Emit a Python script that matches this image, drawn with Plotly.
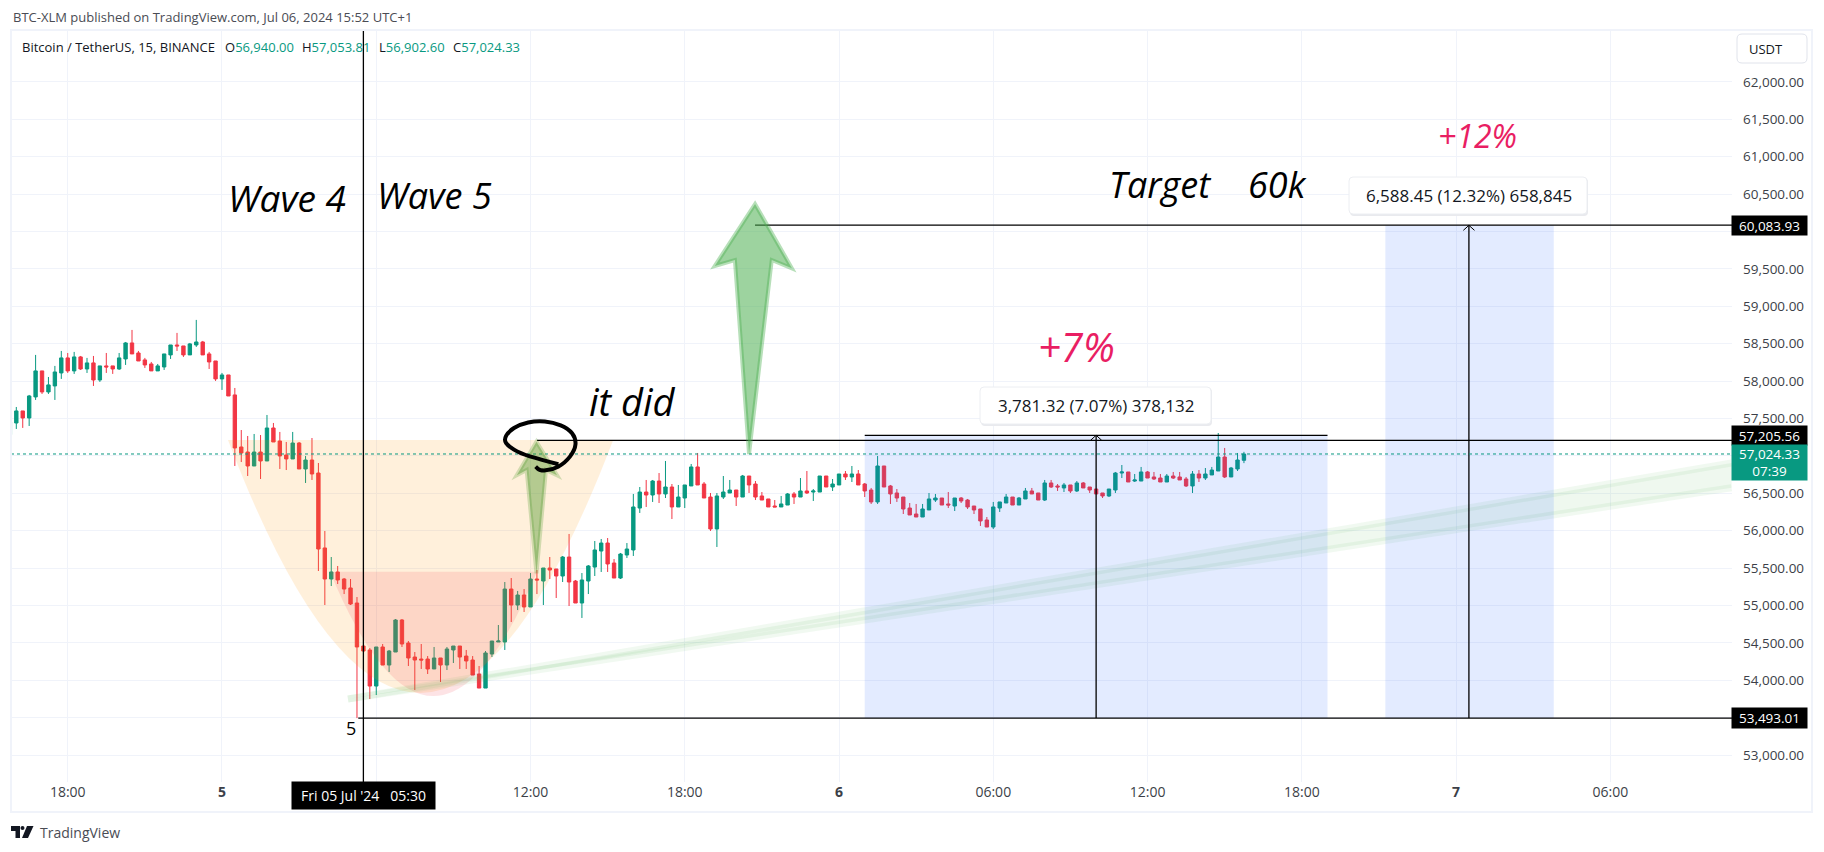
import pandas as pd
import plotly.graph_objects as go

# 15 minute candles
opens = [57283,57439,57600,57506,57787,58135,57854,57934,58108,58309,58135,58322,58161,58242,58014,58202,58202,58161,58295,58509,58375,58282,58228,58135,58188,58349,58482,58469,58349,58482,58522,58362,58268,58028,58081,57814,
         57118,57051,56864,57051,56931,57372,57198,57011,56958,57171,56824,56944,56770,55768,55353,55447,55353,55233,55032,54457,54404,53922,54444,54203,54377,54805,54497,54310,54283,54283,54150,54297,54203,54404,54457,54323,54270,54083,53895,54350,54511,54511,55219,55005,55139,54979,55353,55326,
         55500,55487,55393,55647,55326,55032,55326,55513,55727,55834,55567,55366,55674,55741,56302,56516,56476,56663,56490,56583,56316,56436,56597,56851,56623,56449,56022,56449,56503,56543,56449,56730,56623,56463,56423,56329,56316,56342,56490,56449,56530,56516,56516,56730,56583,56610,56757,56717,56757,56623,56543,56383,
         56864,56597,56503,56449,56302,56222,56182,56276,56409,56436,56356,56329,56436,56409,56329,56289,56142,56048,56302,56369,56449,56342,56423,56530,56503,56409,56637,56597,56570,56610,56530,56637,56583,56556,56503,56463,56543,56770,56784,56663,56663,56784,56717,56703,56650,56730,56717,56690,56597,56757,56703,56744,56797,56984,56717,56824,56940]
highs = [57453,57653,57600,57814,58349,58135,58054,58202,58402,58375,58389,58335,58309,58335,58202,58375,58202,58375,58522,58683,58402,58309,58255,58228,58362,58482,58643,58469,58509,58817,58536,58389,58268,58108,58081,57907,
         57345,57265,57292,57278,57546,57439,57319,57185,57319,57185,56998,57238,56904,55995,55647,55527,55366,55353,55112,54457,54430,54444,54484,54404,54818,54818,54524,54377,54484,54323,54444,54297,54444,54457,54457,54404,54323,54190,54390,54524,54738,55313,55366,55193,55219,55433,55473,55500,
         55647,55487,55661,55955,55340,55433,55540,55861,55888,55901,55620,55701,55834,56490,56583,56677,56677,56770,56931,56623,56610,56610,56891,57038,56650,56503,56503,56730,56677,56543,56744,56730,56663,56516,56423,56409,56463,56503,56516,56703,56797,56556,56730,56730,56690,56757,56797,56864,56810,56637,56570,56998,
         56864,56610,56556,56449,56369,56356,56356,56503,56490,56436,56516,56436,56449,56423,56329,56289,56182,56383,56383,56490,56449,56449,56570,56570,56503,56677,56677,56623,56637,56610,56663,56650,56583,56556,56503,56556,56784,56877,56784,56757,56851,56797,56784,56757,56757,56784,56784,56717,56797,56810,56837,56851,57305,57105,56851,57038,57053]
lows = [57283,57359,57373,57399,57747,57827,57827,57747,58028,58108,58095,58148,58108,57934,57988,58108,58095,58148,58215,58362,58268,58175,58135,58135,58148,58295,58402,58322,58349,58456,58349,58161,58001,57881,57800,56864,
        56917,56730,56864,56690,56931,57185,56824,56810,56958,56824,56637,56677,55460,55005,55259,55286,55152,55005,53493,54390,53748,53802,54203,54110,54377,54444,54190,53869,54150,54083,54150,53976,54136,54230,54150,54150,54069,53895,53895,54310,54511,54404,54778,54938,54912,54979,55152,55005,
        55353,55099,55313,54992,55032,54832,55152,55393,55447,55447,55366,55353,55634,55661,56236,56316,56383,56369,56436,56155,56316,56302,56597,56610,56436,55995,55781,56423,56503,56329,56449,56503,56409,56409,56316,56316,56316,56342,56356,56449,56490,56396,56516,56583,56530,56610,56677,56650,56610,56449,56356,56356,
        56583,56356,56383,56222,56209,56182,56182,56276,56383,56342,56302,56262,56369,56289,56222,56062,56048,56022,56249,56369,56342,56342,56423,56490,56409,56396,56570,56530,56516,56503,56516,56570,56503,56490,56436,56449,56503,56703,56650,56650,56663,56703,56677,56650,56650,56690,56677,56583,56503,56650,56677,56744,56797,56703,56717,56797,56902]
closes = [57453,57600,57506,57800,58135,57854,57948,58121,58309,58135,58322,58161,58242,58014,58202,58188,58161,58309,58509,58362,58268,58215,58135,58202,58362,58482,58469,58349,58496,58522,58349,58255,58028,58081,57800,57105,
          57038,56864,57051,56931,57372,57185,56998,56958,57171,56824,56944,56757,55754,55353,55447,55340,55219,55019,54444,54390,53922,54444,54203,54390,54805,54484,54297,54270,54270,54150,54297,54203,54417,54457,54310,54257,54069,53895,54364,54524,54524,55219,55005,55139,54979,55353,55340,55500,
          55473,55393,55647,55313,55032,55340,55527,55741,55834,55554,55366,55687,55754,56316,56516,56476,56663,56490,56583,56316,56449,56610,56851,56610,56436,56022,56463,56516,56543,56449,56730,56610,56449,56409,56316,56316,56356,56490,56449,56530,56503,56530,56730,56583,56623,56757,56717,56757,56610,56530,56383,56864,
          56583,56490,56436,56289,56209,56182,56289,56423,56436,56342,56342,56436,56396,56316,56276,56129,56048,56316,56383,56449,56342,56436,56530,56490,56409,56637,56583,56583,56610,56530,56637,56570,56543,56490,56463,56556,56770,56784,56650,56677,56784,56703,56690,56650,56730,56703,56677,56597,56757,56703,56757,56810,56984,56717,56837,56944,57024]

times = pd.date_range("2024-07-04 15:45", periods=len(opens), freq="15min")

price_ticks = [53000 + 500 * i for i in range(19)]
hidden_prices = [53500, 57000, 60000]  # covered by the axis labels in the original
time_ticks = ["2024-07-04 18:00", "2024-07-05 00:00", "2024-07-05 06:00", "2024-07-05 12:00", "2024-07-05 18:00",
              "2024-07-06 00:00", "2024-07-06 06:00", "2024-07-06 12:00", "2024-07-06 18:00", "2024-07-07 00:00",
              "2024-07-07 06:00"]
time_labels = ["18:00", "<b>5</b>", "", "12:00", "18:00", "<b>6</b>", "06:00", "12:00", "18:00", "<b>7</b>", "06:00"]

last_price = 57024.33
low_level = 53493.01
mid_level = 57205.56
target_level = 60083.93
long_top_1 = 57274.33
long_top_2 = 60081.46

big_arrow_t = ["2024-07-05_20:44", "2024-07-05_22:10", "2024-07-05_21:23", "2024-07-05_20:30", "2024-07-05_19:57", "2024-07-05_19:10"]
big_arrow_p = [60367, 59507, 59618, 57024, 59618, 59538]
small_arrow_t = ["2024-07-05_12:14", "2024-07-05_13:02", "2024-07-05_12:36", "2024-07-05_12:14", "2024-07-05_11:51", "2024-07-05_11:28"]
small_arrow_p = [57189, 56740, 56810, 55429, 56810, 56740]

brush_t = ["13:05", "12:22", "11:35", "11:08", "10:58", "11:08", "11:35", "12:14", "12:53", "13:28", "13:46", "13:44", "13:20", "12:49", "12:22", "12:12"]
brush_p = [56887, 56953, 57033, 57131, 57212, 57322, 57421, 57470, 57448, 57368, 57234, 57078, 56900, 56810, 56801, 56855]

GREEN = "#089981"
RED = "#f23645"
GRID = "#f0f3fa"
TEXT = "#131722"
UI_FONT = "Open Sans"
DRAW_FONT = "Open Sans"
BLACK_LINE = dict(color="black", width=1.3)

# pane edges in page pixels, page has 8px body margin
PANE_L, PANE_R, PANE_T, PANE_B = 11, 1732, 30, 782


def px(x):
    return (x - PANE_L) / (PANE_R - PANE_L)


def py(y):
    return (PANE_B - y) / (PANE_B - PANE_T)


def poly(ts, ps):
    return "M " + " L ".join(f"{t},{p}" for t, p in zip(ts, ps)) + " Z"


def rounded(x0, y0, x1, y1, r):
    # rounded box in page pixels, written in paper coordinates
    pts = [("M", x0 + r, y0), ("L", x1 - r, y0), ("Q", x1, y0, x1, y0 + r), ("L", x1, y1 - r), ("Q", x1, y1, x1 - r, y1),
           ("L", x0 + r, y1), ("Q", x0, y1, x0, y1 - r), ("L", x0, y0 + r), ("Q", x0, y0, x0 + r, y0)]
    out = []
    for p in pts:
        coords = p[1:]
        pairs = [f"{px(coords[i])},{py(coords[i + 1])}" for i in range(0, len(coords), 2)]
        out.append(p[0] + " " + " ".join(pairs))
    return " ".join(out) + " Z"


def smooth(ts, ps):
    stamps = [pd.Timestamp("2024-07-05 " + t) for t in ts]
    fmt = lambda s: s.strftime("%Y-%m-%d_%H:%M:%S")
    path = f"M {fmt(stamps[0])},{ps[0]}"
    for i in range(1, len(ts) - 1):
        mid_t = stamps[i] + (stamps[i + 1] - stamps[i]) / 2
        mid_p = (ps[i] + ps[i + 1]) / 2
        path += f" Q {fmt(stamps[i])},{ps[i]} {fmt(mid_t)},{mid_p}"
    path += f" L {fmt(stamps[-1])},{ps[-1]}"
    return path


fig = go.Figure(go.Candlestick(
    x=times, open=opens, high=highs, low=lows, close=closes,
    increasing=dict(line=dict(color=GREEN, width=1), fillcolor=GREEN),
    decreasing=dict(line=dict(color=RED, width=1), fillcolor=RED),
    whiskerwidth=0, hoverinfo="skip", showlegend=False))

shapes = [
    # cup drawings
    dict(type="path", path="M 2024-07-05_00:14,57212 Q 2024-07-05_07:43,50446 2024-07-05_15:13,57212 Z",
         fillcolor="rgba(255,152,0,0.14)", line_width=0),
    dict(type="path", path="M 2024-07-05_04:12,55451 Q 2024-07-05_08:14,52124 2024-07-05_12:15,55451 Z",
         fillcolor="rgba(242,54,69,0.14)", line_width=0),
    # green fan
    dict(type="path", path="M 2024-07-05_04:54,53749 L 2024-07-07_10:43,56904 L 2024-07-07_10:43,56574 Z",
         fillcolor="rgba(76,175,80,0.09)", line_width=0),
    dict(type="line", x0="2024-07-05 04:54", y0=53749, x1="2024-07-07 10:43", y1=56904, line=dict(color="rgba(76,175,80,0.08)", width=7)),
    dict(type="line", x0="2024-07-05 04:54", y0=53749, x1="2024-07-07 10:43", y1=56574, line=dict(color="rgba(76,175,80,0.08)", width=7)),
    # long projections
    dict(type="rect", x0="2024-07-06 01:00", x1="2024-07-06 19:00", y0=low_level, y1=long_top_1, fillcolor="rgba(41,98,255,0.13)", line_width=0),
    dict(type="rect", x0="2024-07-06 21:15", x1="2024-07-07 03:48", y0=low_level, y1=long_top_2, fillcolor="rgba(41,98,255,0.13)", line_width=0),
    dict(type="line", x0="2024-07-06 01:00", x1="2024-07-06 19:00", y0=long_top_1, y1=long_top_1, line=BLACK_LINE),
    dict(type="line", x0="2024-07-06 10:00", x1="2024-07-06 10:00", y0=low_level, y1=long_top_1, line=BLACK_LINE),
    dict(type="path", path=f"M 2024-07-06_09:47,{long_top_1 - 67} L 2024-07-06_10:00,{long_top_1} L 2024-07-06_10:13,{long_top_1 - 67}", line=dict(color="black", width=1)),
    dict(type="line", x0="2024-07-07 00:30", x1="2024-07-07 00:30", y0=low_level, y1=long_top_2, line=BLACK_LINE),
    dict(type="path", path=f"M 2024-07-07_00:17,{long_top_2 - 67} L 2024-07-07_00:30,{long_top_2} L 2024-07-07_00:43,{long_top_2 - 67}", line=dict(color="black", width=1)),
    # horizontal levels
    dict(type="line", xref="x domain", x0=0, x1=1, y0=last_price, y1=last_price, line=dict(color=GREEN, width=1, dash="dot")),
    dict(type="line", x0="2024-07-05 12:15", x1="2024-07-07 10:44", y0=mid_level, y1=mid_level, line=BLACK_LINE),
    dict(type="line", x0="2024-07-05 20:44", x1="2024-07-07 10:44", y0=target_level, y1=target_level, line=BLACK_LINE),
    dict(type="line", x0="2024-07-05 05:18", x1="2024-07-07 10:44", y0=low_level, y1=low_level, line=BLACK_LINE),
    dict(type="line", x0="2024-07-05 05:30", x1="2024-07-05 05:30", yref="y domain", y0=0, y1=1, line=BLACK_LINE),
    # hand drawn arrows and the circle
    dict(type="path", path=poly(big_arrow_t, big_arrow_p), fillcolor="rgba(76,175,80,0.55)", line=dict(color="rgba(76,175,80,0.4)", width=4)),
    dict(type="path", path=poly(small_arrow_t, small_arrow_p), fillcolor="rgba(76,150,40,0.42)", line=dict(color="rgba(76,150,40,0.25)", width=4)),
    dict(type="path", path=smooth(brush_t, brush_p), line=dict(color="black", width=4)),
    # value boxes
    dict(type="path", xref="paper", yref="paper", path=rounded(981, 388, 1212, 426, 4), fillcolor="#e9eaee", line_width=0),
    dict(type="path", xref="paper", yref="paper", path=rounded(980, 387, 1211, 424, 4), fillcolor="white", line=dict(color="#eceef2", width=1)),
    dict(type="path", xref="paper", yref="paper", path=rounded(1350, 178, 1588, 216, 4), fillcolor="#e9eaee", line_width=0),
    dict(type="path", xref="paper", yref="paper", path=rounded(1349, 177, 1587, 214, 4), fillcolor="white", line=dict(color="#eceef2", width=1)),
    # frame and the currency button
    dict(type="rect", xref="paper", yref="paper", x0=px(11), x1=px(1812), y0=py(30), y1=py(812), line=dict(color=GRID, width=2)),
    dict(type="path", xref="paper", yref="paper", path=rounded(1737, 34, 1807, 63, 5), fillcolor="white", line=dict(color="#e0e3eb", width=1)),
    # TradingView mark
    dict(type="path", xref="paper", yref="paper", fillcolor="#131722", line_width=0,
         path=f"M {px(11)},{py(826)} L {px(20)},{py(826)} L {px(20)},{py(838)} L {px(15.5)},{py(838)} L {px(15.5)},{py(831)} L {px(11)},{py(831)} Z"),
    dict(type="circle", xref="paper", yref="paper", fillcolor="#131722", line_width=0, x0=px(20.5), x1=px(24.5), y0=py(830), y1=py(826)),
    dict(type="path", xref="paper", yref="paper", fillcolor="#131722", line_width=0,
         path=f"M {px(27)},{py(826)} L {px(33.5)},{py(826)} L {px(28)},{py(838)} L {px(22)},{py(838)} Z"),
]


def note(text, t, p, size, color="black", italic=True):
    return dict(text=text, x=t, y=p, xref="x", yref="y", showarrow=False,
                font=dict(family=DRAW_FONT, size=size, color=color, style="italic" if italic else "normal"))


def page_text(text, x, y, size=13, color=TEXT, anchor="left", family=UI_FONT):
    return dict(text=text, x=px(x), y=py(y), xref="paper", yref="paper", xanchor=anchor, yanchor="middle", showarrow=False,
                font=dict(family=family, size=size, color=color))


def axis_box(text, x0, y0, x1, y1, bg="black", size=13.5):
    return dict(text=text, x=px((x0 + x1) / 2), y=py((y0 + y1) / 2), xref="paper", yref="paper", showarrow=False,
                xanchor="center", yanchor="middle", width=x1 - x0, height=y1 - y0, bgcolor=bg, borderpad=0,
                align="center", valign="middle", font=dict(family=UI_FONT, size=size, color="white"))


annotations = [
    note("Wave 4", "2024-07-05 02:31", 60460, 37),
    note("Wave 5", "2024-07-05 08:16", 60487, 36),
    note("it did", "2024-07-05 15:59", 57733, 38),
    note("Target", "2024-07-06 12:28", 60634, 36),
    note("60k", "2024-07-06 17:04", 60621, 36),
    note("+7%", "2024-07-06 09:15", 58462, 40, "#e91e63"),
    note("+12%", "2024-07-07 00:49", 61289, 32, "#e91e63"),
    note("5", "2024-07-05 05:00", 53361, 18, "black", italic=False),
    note("3,781.32 (7.07%) 378,132", "2024-07-06 10:00", 57673, 17, TEXT, italic=False),
    note("6,588.45 (12.32%) 658,845", "2024-07-07 00:30", 60480, 17, TEXT, italic=False),
    page_text("BTC-XLM published on TradingView.com, Jul 06, 2024 15:52 UTC+1", 11, 17, 13, "#4a4c54"),
    page_text("Bitcoin / TetherUS, 15, BINANCE", 20, 47, 13),
    page_text(f'O<span style="color:{GREEN}">56,940.00</span>', 223, 47, 13),
    page_text(f'H<span style="color:{GREEN}">57,053.81</span>', 300, 47, 13),
    page_text(f'L<span style="color:{GREEN}">56,902.60</span>', 377, 47, 13),
    page_text(f'C<span style="color:{GREEN}">57,024.33</span>', 451, 47, 13),
    page_text("USDT", 1747, 49, 13),
    page_text("TradingView", 38, 832, 14, "#4a4c54"),
    axis_box("60,083.93", 1732, 216, 1807, 235),
    axis_box("57,205.56", 1732, 426, 1807, 445),
    axis_box("53,493.01", 1732, 708, 1807, 728),
    axis_box("57,024.33<br>07:39", 1732, 445, 1807, 480, GREEN),
    axis_box("Fri 05 Jul '24   05:30", 292, 782, 435, 809, size=14),
]

fig.update_layout(
    width=1808, height=836,
    margin=dict(l=PANE_L - 8, r=1816 - PANE_R, t=PANE_T - 8, b=844 - PANE_B),
    paper_bgcolor="white", plot_bgcolor="white",
    boxgap=0.25, showlegend=False, hovermode=False,
    font=dict(family=UI_FONT, color=TEXT),
    shapes=shapes, annotations=annotations,
    xaxis=dict(type="date", range=["2024-07-04 15:47:36", "2024-07-07 10:44"], rangeslider=dict(visible=False),
               tickmode="array", tickvals=time_ticks, ticktext=time_labels, tickangle=0, ticks="", showline=False, zeroline=False,
               showgrid=True, gridcolor=GRID, gridwidth=1, tickfont=dict(family=UI_FONT, size=14, color="#3c3f48")),
    yaxis=dict(side="right", range=[52639, 62693], tickmode="array", tickvals=price_ticks,
               ticktext=["" if v in hidden_prices else f"{v:,.2f}" for v in price_ticks], ticks="", showline=False, zeroline=False,
               showgrid=True, gridcolor=GRID, gridwidth=1, ticklabelstandoff=10,
               tickfont=dict(family=UI_FONT, size=13.5, color="#3c3f48")),
)

fig.write_html("out.html")
